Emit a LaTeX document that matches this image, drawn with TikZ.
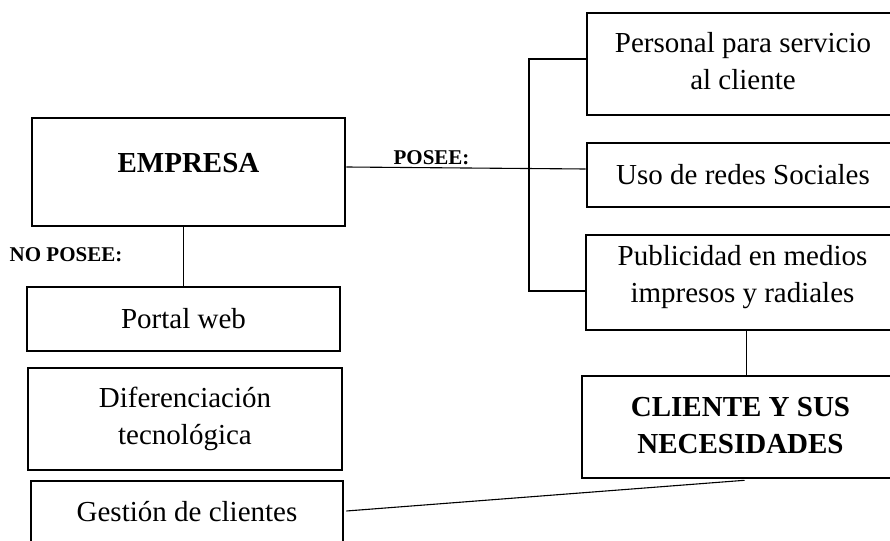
\documentclass[tikz,border=0pt]{standalone}
\usepackage{fontspec}
\setmainfont{Liberation Serif}
\begin{document}
\begin{tikzpicture}[x=1pt,y=-1pt,
  box/.style={draw, line width=2.6pt, inner sep=0pt, align=center,
    font=\fontsize{29}{37}\selectfont},
  tag/.style={font=\fontsize{21}{25}\selectfont\bfseries, inner sep=0pt},
  link/.style={line width=1.1pt}]
\clip (0,0) rectangle (890,540);

% left column
\node[box, minimum width=313pt, minimum height=108pt, text depth=18pt]
  (empresa) at (188.5,172) {\textbf{EMPRESA}};
\node[box, minimum width=313pt, minimum height=64pt]
  (portal) at (183.5,319) {Portal web};
\node[box, minimum width=314pt, minimum height=102pt]
  (dif) at (185,419) {Diferenciación\\tecnológica};
\node[box, minimum width=312pt, minimum height=64pt, text depth=4pt]
  (gest) at (187,513) {Gestión de clientes};

% right column (boxes run past the right edge)
\node[box, minimum width=312pt, minimum height=102pt, text depth=6pt]
  (personal) at (743,64) {Personal para servicio\\al cliente};
\node[box, minimum width=312pt, minimum height=64pt]
  (uso) at (743,175) {Uso de redes Sociales};
\node[box, minimum width=313pt, minimum height=95pt, text depth=18pt]
  (publi) at (742.5,282.5) {Publicidad en medios\\impresos y radiales};
\node[box, minimum width=317pt, minimum height=102pt, text depth=4pt]
  (cliente) at (740.5,427) {\textbf{CLIENTE Y SUS}\\\textbf{NECESIDADES}};

% labels
\node[tag] (noposee) at (66,255) {NO POSEE:};
\node[tag] (posee) at (431.5,158) {POSEE:};

% connectors
\coordinate (bus) at (529,0);
\draw[link] (portal.north) -- (portal.north |- empresa.south);
\draw[link] ([yshift=5pt]empresa.east) -- ([yshift=6pt]uso.west);
\draw[link] ([yshift=5pt]personal.west) -- ([yshift=5pt]personal.west -| bus)
  -- ([yshift=-8.5pt]publi.west -| bus) -- ([yshift=-8.5pt]publi.west);
\draw[link] ([xshift=4pt]publi.south) -- ([xshift=4pt]publi.south |- cliente.north);
\draw[link] ([xshift=4pt,yshift=-1pt]cliente.south) -- ([xshift=2pt,yshift=2pt]gest.east);
\end{tikzpicture}
\end{document}
